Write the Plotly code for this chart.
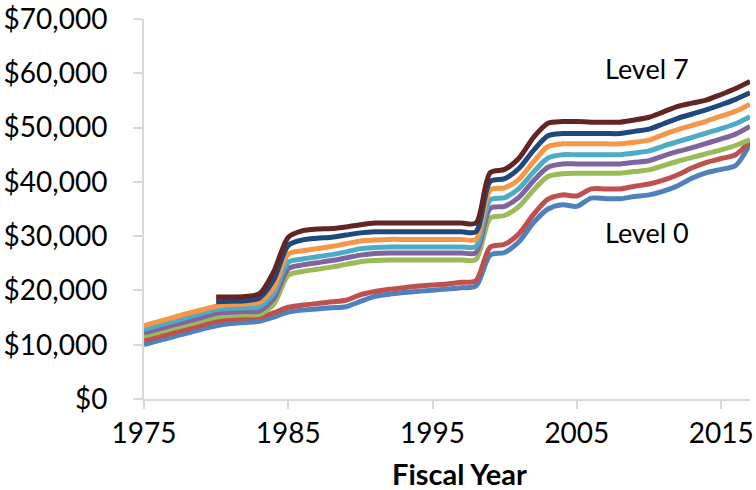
import plotly.graph_objects as go

years = list(range(1975, 2018))

level0 = [10000, 10750, 11450, 12150, 12850, 13500, 13900, 14100, 14300, 15100,
          16000, 16400, 16600, 16800, 17000, 18000, 18900, 19300, 19600, 19850,
          20050, 20250, 20500, 20800, 26500, 27000, 29000, 32500, 35000, 35800,
          35500, 37000, 36900, 36900, 37300, 37600, 38300, 39300, 40700, 41700,
          42300, 43000, 47000]
level1 = [10800, 11500, 12200, 12900, 13600, 14300, 14700, 14900, 15100, 15900,
          16900, 17300, 17600, 17900, 18200, 19200, 19800, 20200, 20500, 20800,
          21000, 21200, 21500, 21800, 28000, 28500, 30500, 34000, 36800, 37600,
          37400, 38700, 38700, 38700, 39200, 39600, 40300, 41300, 42600, 43600,
          44300, 45000, 47500]
level2 = [11600, 12300, 13000, 13700, 14400, 15100, 15400, 15500, 15600, 17500,
          22800, 23500, 23900, 24300, 24800, 25300, 25500, 25600, 25600, 25600,
          25600, 25600, 25600, 25700, 33300, 33800, 35500, 38500, 41000, 41500,
          41600, 41600, 41600, 41600, 41900, 42200, 43000, 43800, 44500, 45200,
          45900, 46700, 47800]
level3 = [12200, 12900, 13600, 14300, 15000, 15800, 16000, 16100, 16200, 18500,
          24000, 24700, 25100, 25500, 26000, 26500, 26800, 26900, 26900, 26900,
          26900, 26900, 26900, 26950, 35100, 35500, 37200, 40200, 42700, 43300,
          43300, 43300, 43300, 43300, 43600, 43900, 44800, 45600, 46300, 47100,
          47900, 48800, 50200]
level4 = [12800, 13550, 14300, 15050, 15800, 16500, 16700, 16800, 17000, 19500,
          25200, 25800, 26200, 26600, 27100, 27700, 27900, 28000, 28000, 28000,
          28000, 28000, 28000, 28100, 36700, 37100, 38800, 41800, 44400, 45000,
          45000, 45000, 45000, 45000, 45300, 45700, 46600, 47400, 48200, 49000,
          49800, 50700, 52000]
level5 = [13500, 14250, 15000, 15750, 16400, 17100, 17400, 17500, 17800, 20500,
          26700, 27300, 27700, 28100, 28600, 29100, 29300, 29400, 29400, 29400,
          29400, 29400, 29400, 29400, 38500, 38900, 40500, 43700, 46500, 47000,
          47000, 47000, 47000, 47000, 47300, 47700, 48700, 49600, 50400, 51200,
          52100, 53000, 54300]
level6 = [None] * 5 + [
          17900, 18000, 18100, 18600, 22000,
          28300, 29300, 29600, 29800, 30200, 30600, 30800, 30800, 30800, 30800,
          30800, 30800, 30800, 30800, 40100, 40600, 42500, 45800, 48500, 48900,
          48900, 48900, 48900, 48900, 49300, 49700, 50700, 51700, 52500, 53300,
          54200, 55200, 56400]
level7 = [None] * 5 + [
          18800, 18800, 18900, 19400, 23500,
          29800, 31000, 31300, 31400, 31700, 32100, 32400, 32400, 32400, 32400,
          32400, 32400, 32400, 32400, 41700, 42300, 44400, 48200, 50800, 51100,
          51100, 51000, 51000, 51000, 51400, 51900, 52900, 53900, 54500, 55100,
          56100, 57200, 58500]

series = [
    ("Level 0", level0, "#4F81BD"),
    ("Level 1", level1, "#C0504D"),
    ("Level 2", level2, "#9BBB59"),
    ("Level 3", level3, "#8064A2"),
    ("Level 4", level4, "#4BACC6"),
    ("Level 5", level5, "#F79646"),
    ("Level 6", level6, "#1F497D"),
    ("Level 7", level7, "#632523"),
]

x_ticks = [1975, 1985, 1995, 2005, 2015]
y_ticks = list(range(0, 70001, 10000))
y_labels = ["$0", "$10,000", "$20,000", "$30,000", "$40,000", "$50,000", "$60,000", "$70,000"]

FONT = "Lato"

fig = go.Figure()
for name, vals, color in series:
    fig.add_trace(go.Scatter(
        x=years, y=vals, name=name, mode="lines",
        line=dict(color=color, width=5, shape="spline", smoothing=0.8),
        connectgaps=False,
    ))

fig.add_annotation(x=2006.8, y=60900, text="Level 7", showarrow=False,
                   xanchor="left", yanchor="middle",
                   font=dict(family=FONT, size=27, color="#000000"))
fig.add_annotation(x=2006.8, y=30600, text="Level 0", showarrow=False,
                   xanchor="left", yanchor="middle",
                   font=dict(family=FONT, size=27, color="#000000"))
# x-axis title
fig.add_annotation(xref="paper", yref="paper", x=0.521, y=-0.197,
                   text="<b>Fiscal Year</b>", showarrow=False,
                   xanchor="center", yanchor="middle",
                   font=dict(family=FONT, size=29, color="#000000"))

fig.update_layout(
    width=756, height=490,
    margin=dict(l=144, r=6, t=19, b=91),
    paper_bgcolor="white", plot_bgcolor="white",
    showlegend=False,
    font=dict(family=FONT, size=28, color="#000000"),
)
fig.update_xaxes(
    range=[1975, 2017], tickvals=x_ticks, ticktext=[str(v) for v in x_ticks],
    showgrid=False, zeroline=False, automargin=False,
    showline=True, linecolor="#D9D9D9", linewidth=2,
    ticks="outside", ticklen=8, tickcolor="#D9D9D9", tickwidth=2,
    tickfont=dict(family=FONT, size=28),
)
fig.update_yaxes(
    range=[0, 70000], tickvals=y_ticks, ticktext=y_labels,
    showgrid=False, zeroline=False, automargin=False,
    showline=True, linecolor="#D9D9D9", linewidth=2,
    ticks="outside", ticklen=9, tickcolor="#D9D9D9", tickwidth=2,
    tickfont=dict(family=FONT, size=28),
    ticklabelstandoff=20,
)

fig.write_html(
    "out.html",
    config={"displayModeBar": False},
    post_script="document.body.style.margin='0px';document.body.style.overflow='hidden';",
)
